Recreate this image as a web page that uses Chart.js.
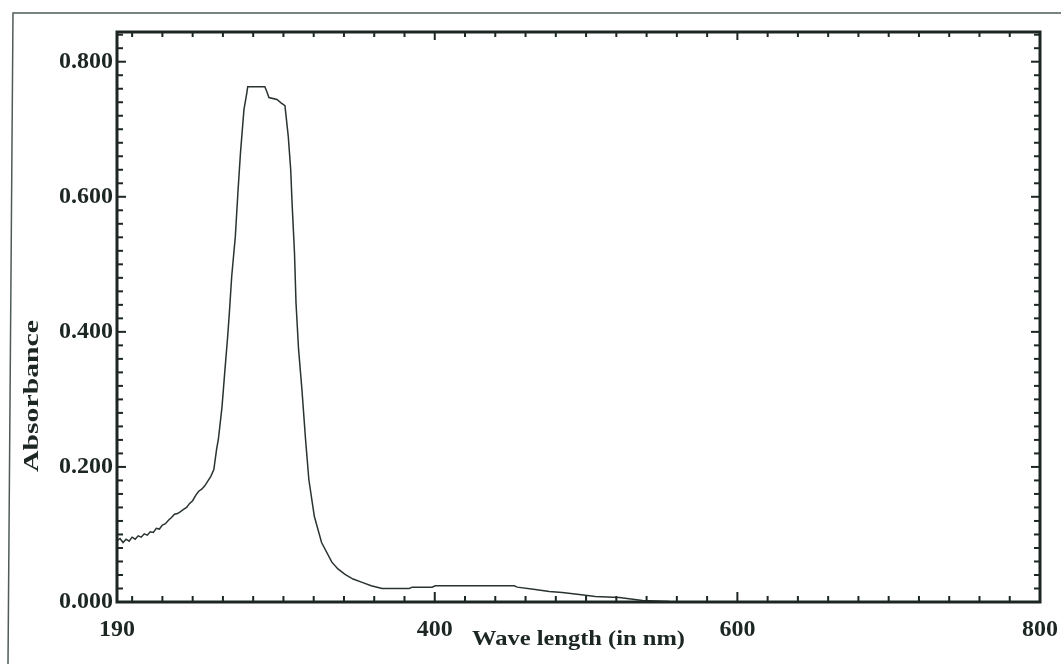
<!DOCTYPE html>
<html>
<head>
<meta charset="utf-8">
<script src="https://cdn.jsdelivr.net/npm/chart.js@4.4.1/dist/chart.umd.min.js"></script>
<style>
html,body{margin:0;padding:0;background:#ffffff;}
#wrap{width:1061px;height:664px;position:relative;overflow:hidden;}
canvas{display:block;}
</style>
</head>
<body>
<div id="wrap"><canvas id="c" width="1061" height="664"></canvas></div>
<script>
// ---- data ----
const wavelength = [
  190,192,194,196,198,200,202,204,206,208,210,212,214,216,218,220,222,224,226,228,
  230,232,234,236,238,240,242,244,246,248,250,252,254,255.8,257.0,259.4,261.2,263.0,264.1,265.8,
  268.2,269.9,271.6,273.9,275.8,276.4,287.7,289.0,290.4,295.7,298.4,301.0,303.2,304.8,305.7,307.3,
  308.3,310.0,312.2,314.6,316.8,320.4,325.2,332.0,336.0,340.7,346.0,352.0,358.0,365.2,383.1,385.1,
  398.3,400.3,452.5,454.5,466.4,475.7,484.3,495.5,506.1,522.0,537.3,555.1,580,650,720,800
];
const absorbance = [
  0.091,0.094,0.088,0.093,0.090,0.096,0.093,0.098,0.096,0.101,0.099,0.104,0.103,0.109,0.108,0.114,0.116,0.121,0.125,0.130,
  0.131,0.134,0.137,0.140,0.146,0.150,0.158,0.164,0.167,0.172,0.179,0.186,0.196,0.226,0.241,0.289,0.340,0.389,0.423,0.482,
  0.541,0.606,0.665,0.729,0.754,0.763,0.763,0.756,0.747,0.744,0.739,0.735,0.689,0.640,0.591,0.517,
  0.443,0.374,0.315,0.241,0.181,0.127,0.088,0.059,0.049,0.041,0.034,0.029,0.024,0.020,0.020,0.022,
  0.022,0.024,0.024,0.022,0.0185,0.0155,0.014,0.011,0.008,0.0067,0.0022,0.0007,0.0003,0.0002,0.0002,0.0002
];
const xLabelValues = [190, 400, 600, 800];
const yLabelValues = [0, 0.2, 0.4, 0.6, 0.8];
const xTitle = 'Wave length (in nm)';
const yTitle = 'Absorbance';

const ink = '#1c2622';
const points = wavelength.map((w, i) => ({x: w, y: absorbance[i]}));
const isYLabel = v => yLabelValues.some(l => Math.abs(l - v) < 1e-9);

const framePlugin = {
  id: 'frame',
  beforeDraw(chart) {
    const ctx = chart.ctx;
    ctx.save();
    ctx.fillStyle = '#ffffff';
    ctx.fillRect(0, 0, chart.width, chart.height);
    ctx.strokeStyle = '#4f5c56';
    ctx.lineWidth = 1.5;
    ctx.beginPath();
    ctx.moveTo(chart.width, 13);
    ctx.lineTo(13, 13);
    ctx.lineTo(8, chart.height);
    ctx.stroke();
    ctx.restore();
  },
  afterDatasetsDraw(chart) {
    const {ctx, chartArea: a, scales: {x, y}} = chart;
    ctx.save();
    ctx.strokeStyle = ink;
    ctx.lineWidth = 2;
    const seg = (x1, y1, x2, y2) => { ctx.beginPath(); ctx.moveTo(x1, y1); ctx.lineTo(x2, y2); ctx.stroke(); };
    x.ticks.forEach(t => {
      if (t.value <= x.min || t.value >= x.max) return;
      const px = x.getPixelForValue(t.value);
      const major = xLabelValues.includes(t.value);
      seg(px, a.bottom, px, a.bottom - (major ? 10 : 6));
      seg(px, a.top, px, a.top + (major ? 8 : 5));
    });
    y.ticks.forEach(t => {
      if (t.value <= y.min || t.value >= y.max) return;
      const py = y.getPixelForValue(t.value);
      const major = isYLabel(t.value);
      seg(a.left, py, a.left + (major ? 9 : 6), py);
      seg(a.right, py, a.right - (major ? 9 : 6), py);
    });
    ctx.lineWidth = 3;
    ctx.strokeRect(a.left, a.top, a.right - a.left, a.bottom - a.top);

    // axis titles
    ctx.fillStyle = ink;
    ctx.font = 'bold 21px "Liberation Serif", "Times New Roman", serif';
    ctx.textAlign = 'center';
    ctx.textBaseline = 'alphabetic';
    let w = ctx.measureText(xTitle).width;
    ctx.save();
    ctx.translate((a.left + a.right) / 2, a.bottom + 43);
    ctx.scale(213 / w, 1);
    ctx.fillText(xTitle, 0, 0);
    ctx.restore();

    w = ctx.measureText(yTitle).width;
    ctx.save();
    ctx.translate(38, 396);
    ctx.rotate(-Math.PI / 2);
    ctx.scale(152 / w, 1);
    ctx.fillText(yTitle, 0, 0);
    ctx.restore();
    ctx.restore();
  }
};

const tickFont = {family: '"Liberation Serif", "Times New Roman", serif', size: 24, weight: 'bold'};

new Chart(document.getElementById('c'), {
  type: 'line',
  data: {
    datasets: [{
      data: points,
      borderColor: '#29332f',
      borderWidth: 1.5,
      pointRadius: 0,
      tension: 0,
      fill: false
    }]
  },
  options: {
    responsive: false,
    animation: false,
    devicePixelRatio: 1,
    layout: {padding: {left: 0, right: 21, top: 32, bottom: 0}},
    plugins: {legend: {display: false}, tooltip: {enabled: false}},
    scales: {
      x: {
        type: 'linear',
        min: 190,
        max: 800,
        grid: {display: false, drawTicks: false},
        border: {display: false},
        afterBuildTicks: s => {
          const t = [{value: 190}];
          for (let v = 200; v <= 780; v += 20) t.push({value: v});
          t.push({value: 800});
          s.ticks = t;
        },
        ticks: {
          autoSkip: false,
          maxRotation: 0,
          padding: 13,
          color: ink,
          font: tickFont,
          callback: v => xLabelValues.includes(v) ? String(v) : ''
        },
        afterFit: s => { s.height = 62; s.paddingLeft = 0; s.paddingRight = 0; }
      },
      y: {
        type: 'linear',
        min: 0,
        max: 0.844,
        grid: {display: false, drawTicks: false},
        border: {display: false},
        afterBuildTicks: s => {
          const t = [];
          for (let i = 0; i <= 42; i++) t.push({value: (i * 2) / 100});
          s.ticks = t;
        },
        ticks: {
          autoSkip: false,
          padding: 4,
          color: ink,
          font: tickFont,
          callback: v => isYLabel(v) ? v.toFixed(3) : ''
        },
        afterFit: s => { s.width = 117; s.paddingTop = 0; s.paddingBottom = 0; }
      }
    }
  },
  plugins: [framePlugin]
});
</script>
</body>
</html>
